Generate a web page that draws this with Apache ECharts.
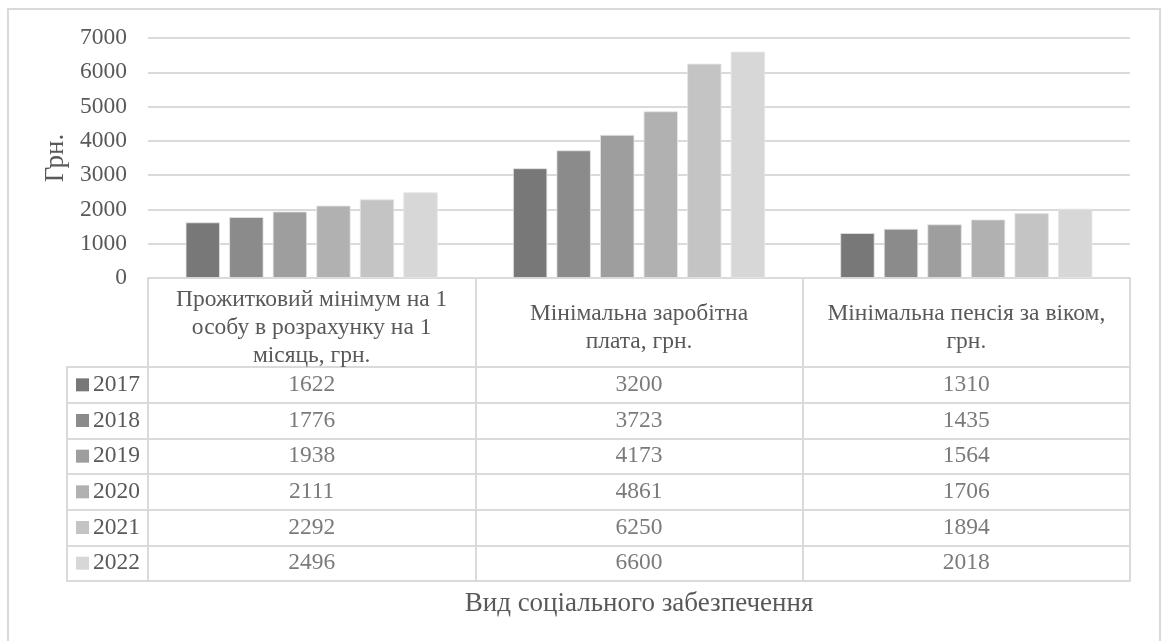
<!DOCTYPE html>
<html>
<head>
<meta charset="utf-8">
<script src="https://cdn.jsdelivr.net/npm/echarts@6/dist/echarts.min.js"></script>
<style>
html,body{margin:0;padding:0;background:#fff;}
#c{width:1166px;height:641px;}
</style>
</head>
<body>
<div id="c"></div>
<script>
const categories = [
  'Прожитковий мінімум на 1\nособу в розрахунку на 1\nмісяць, грн.',
  'Мінімальна заробітна\nплата, грн.',
  'Мінімальна пенсія за віком,\nгрн.'
];
const years = ['2017', '2018', '2019', '2020', '2021', '2022'];
const v2017 = [1622, 3200, 1310];
const v2018 = [1776, 3723, 1435];
const v2019 = [1938, 4173, 1564];
const v2020 = [2111, 4861, 1706];
const v2021 = [2292, 6250, 1894];
const v2022 = [2496, 6600, 2018];
const yTicks = [0, 1000, 2000, 3000, 4000, 5000, 6000, 7000];
const yAxisTitle = 'Грн.';
const xAxisTitle = 'Вид соціального забезпечення';

const seriesValues = [v2017, v2018, v2019, v2020, v2021, v2022];
const colors = ['#787878', '#8b8b8b', '#9e9e9e', '#b1b1b1', '#c4c4c4', '#d7d7d7'];
const FONT = "'Liberation Serif', 'Times New Roman', serif";
const TXT = '#595959';
const LINE = '#dadada';
const LW = 2;
const FS = 23.5;
const TFS = 27;

const rich = { t: { fontFamily: FONT, fontSize: FS, color: TXT, padding: [0, 0, 0, 4] } };
colors.forEach((c, i) => { rich['s' + i] = { width: 13, height: 13, backgroundColor: c }; });

const tableData = [];
seriesValues.forEach((arr, yi) => {
  arr.forEach((v, ci) => tableData.push({ value: [ci, yi, v] }));
});

const chart = echarts.init(document.getElementById('c'), null, { renderer: 'canvas' });
chart.setOption({
  backgroundColor: '#fff',
  animation: false,
  textStyle: { fontFamily: FONT },
  graphic: [{
    type: 'rect', shape: { x: 8, y: 9, width: 1152, height: 700 },
    style: { fill: null, stroke: LINE, lineWidth: LW }, silent: true, z: -10
  }],
  grid: [
    { left: 148, right: 36, top: 38, height: 240, containLabel: false },
    { left: 148, right: 36, top: 367, height: 214, containLabel: false }
  ],
  xAxis: [
    {
      gridIndex: 0, type: 'category', data: categories,
      axisLine: { show: true, lineStyle: { color: LINE, width: LW } },
      axisTick: { show: true, length: 89, interval: 0, lineStyle: { color: LINE, width: LW } },
      axisLabel: { interval: 0, margin: 50, verticalAlign: 'middle', lineHeight: 28,
        fontSize: FS, color: TXT, fontFamily: FONT },
      splitLine: { show: false }
    },
    {
      gridIndex: 1, type: 'category', data: categories,
      axisLine: { show: true, lineStyle: { color: LINE, width: LW } },
      axisTick: { show: false }, axisLabel: { show: false },
      splitLine: { show: true, interval: 0, lineStyle: { color: LINE, width: LW } },
      name: xAxisTitle, nameLocation: 'middle', nameGap: 9,
      nameTextStyle: { fontSize: TFS, color: TXT, fontFamily: FONT }
    }
  ],
  yAxis: [
    {
      gridIndex: 0, type: 'value', min: yTicks[0], max: yTicks[yTicks.length - 1], interval: 1000,
      axisLine: { show: false }, axisTick: { show: false },
      axisLabel: { margin: 21, fontSize: FS, color: TXT, fontFamily: FONT,
        formatter: v => String(v) },
      splitLine: { show: true, lineStyle: { color: LINE, width: LW } },
      name: yAxisTitle, nameLocation: 'middle', nameGap: 78, nameRotate: 90,
      nameTextStyle: { fontSize: TFS, color: TXT, fontFamily: FONT }
    },
    {
      gridIndex: 1, type: 'category', data: years, inverse: true,
      axisLine: { show: true, lineStyle: { color: LINE, width: LW } },
      axisTick: { show: true, length: 81, interval: 0, lineStyle: { color: LINE, width: LW } },
      axisLabel: { interval: 0, margin: 72, align: 'left',
        formatter: (val, idx) => '{s' + idx + '|}{t|' + val + '}', rich: rich },
      splitLine: { show: true, interval: 0, lineStyle: { color: LINE, width: LW } }
    },
    {
      gridIndex: 1, type: 'value', position: 'left', offset: 81, min: 0, max: 1,
      axisLine: { show: true, lineStyle: { color: LINE, width: LW } },
      axisTick: { show: false }, axisLabel: { show: false }, splitLine: { show: false }
    }
  ],
  series: years.map((y, i) => ({
    name: y, type: 'bar', xAxisIndex: 0, yAxisIndex: 0,
    data: seriesValues[i],
    barGap: '27%', barCategoryGap: '23%',
    itemStyle: { color: colors[i], borderColor: '#e6e6e6', borderWidth: 0.8 },
    z: 3
  })).concat([{
    type: 'scatter', xAxisIndex: 1, yAxisIndex: 1,
    data: tableData, symbolSize: 1,
    itemStyle: { color: 'rgba(0,0,0,0)' },
    label: { show: true, position: 'inside', formatter: p => String(p.value[2]),
      fontSize: FS, color: TXT, fontFamily: FONT },
    silent: true, z: 5
  }])
});
</script>
</body>
</html>
